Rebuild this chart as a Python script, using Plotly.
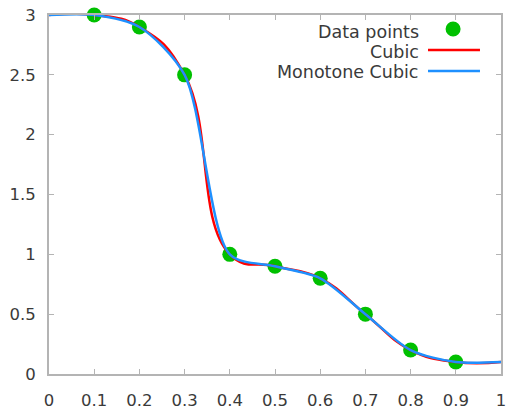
import plotly.graph_objects as go

# Data
x_points = [0.1, 0.2, 0.3, 0.4, 0.5, 0.6, 0.7, 0.8, 0.9]
y_points = [3.0, 2.9, 2.5, 1.0, 0.9, 0.8, 0.5, 0.2, 0.1]
# curves extend flat to the axis limits
x_curve = [0.0] + x_points + [1.0]
y_curve = [3.0] + y_points + [0.1]

x_ticks = [0, 0.1, 0.2, 0.3, 0.4, 0.5, 0.6, 0.7, 0.8, 0.9, 1]
x_tick_labels = ["0", "0.1", "0.2", "0.3", "0.4", "0.5", "0.6", "0.7", "0.8", "0.9", "1"]
y_ticks = [0, 0.5, 1, 1.5, 2, 2.5, 3]
y_tick_labels = ["0", "0.5", "1", "1.5", "2", "2.5", "3"]

series_names = ["Data points", "Cubic", "Monotone Cubic"]
GREEN = "#00c000"
RED = "#ff0000"
BLUE = "#1e90ff"
FONT = "DejaVu Sans"
TEXT_COLOR = "#3a3a3a"
FRAME = "#b4b4b4"

fig = go.Figure()
fig.add_trace(go.Scatter(x=x_points, y=y_points, mode="markers",
                         marker=dict(size=15, color=GREEN), name=series_names[0],
                         cliponaxis=False))
fig.add_trace(go.Scatter(x=x_curve, y=y_curve, mode="lines",
                         line=dict(color=RED, width=2.5, shape="spline", smoothing=1.3),
                         name=series_names[1]))
fig.add_trace(go.Scatter(x=x_curve, y=y_curve, mode="lines",
                         line=dict(color=BLUE, width=2.5, shape="spline", smoothing=0.8),
                         name=series_names[2]))

axis_common = dict(showgrid=False, zeroline=False, showline=True, linecolor=FRAME,
                   linewidth=2, mirror="ticks", ticks="inside", ticklen=5,
                   tickcolor=FRAME, tickwidth=1, automargin=False,
                   ticklabeloverflow="allow",
                   tickfont=dict(family=FONT, size=16.5, color=TEXT_COLOR))

fig.update_xaxes(range=[0, 1], tickvals=x_ticks, ticktext=x_tick_labels,
                 ticklabelstandoff=10, **axis_common)
fig.update_yaxes(range=[0, 3], tickvals=y_ticks, ticktext=y_tick_labels,
                 ticklabelstandoff=8, **axis_common)

# gnuplot-style key: text right-aligned, sample on the right
key_rows = [0.953, 0.898, 0.842]
for name, yy in zip(series_names, key_rows):
    fig.add_annotation(x=0.822, y=yy, xref="paper", yref="paper", text=name,
                       showarrow=False, xanchor="right", yanchor="middle",
                       font=dict(family=FONT, size=17.5, color=TEXT_COLOR))
fig.add_shape(type="circle", xref="paper", yref="paper",
              x0=0.894 - 0.0166, x1=0.894 + 0.0166, y0=0.961 - 0.0209, y1=0.961 + 0.0209,
              fillcolor=GREEN, line=dict(width=0))
fig.add_shape(type="line", xref="paper", yref="paper", x0=0.8385, x1=0.9535,
              y0=0.9025, y1=0.9025, line=dict(color=RED, width=2.5))
fig.add_shape(type="line", xref="paper", yref="paper", x0=0.8385, x1=0.9535,
              y0=0.844, y1=0.844, line=dict(color=BLUE, width=2.5))

fig.update_layout(width=509, height=410, margin=dict(l=49, r=8, t=15, b=36),
                  plot_bgcolor="white", paper_bgcolor="white", showlegend=False)

fig.write_html("out.html", config={"displayModeBar": False},
               post_script="document.body.style.margin='0';document.body.style.overflow='hidden';")
